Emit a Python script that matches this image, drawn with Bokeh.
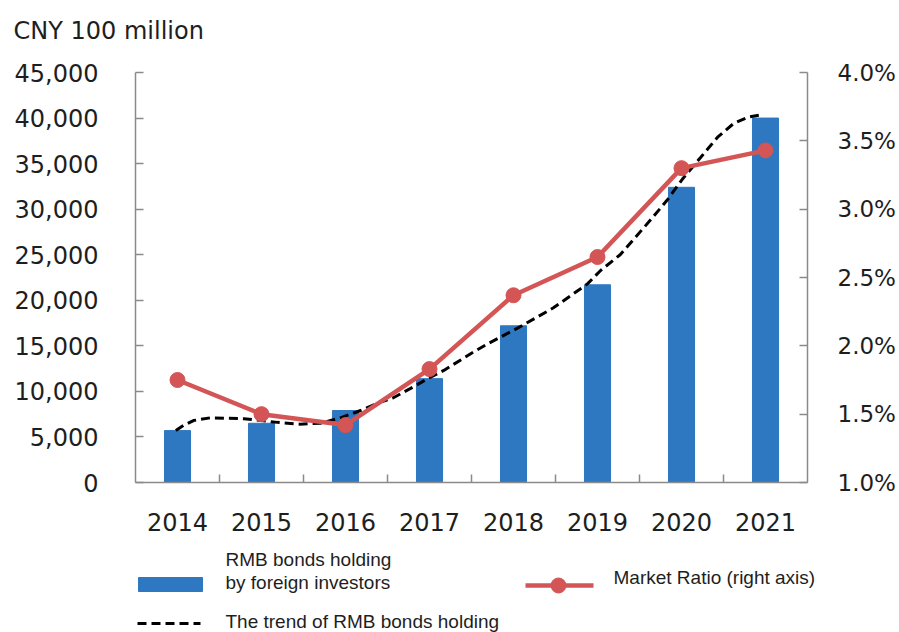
from bokeh.plotting import figure
from bokeh.models import (Range1d, LinearAxis, FixedTicker, PrintfTickFormatter,
                          NumeralTickFormatter, Title)
from bokeh.embed import file_html
from bokeh.resources import INLINE
from bokeh.core.properties import value

# ---------------- data ----------------
years = ["2014", "2015", "2016", "2017", "2018", "2019", "2020", "2021"]
holdings = [5700, 6500, 7900, 11400, 17200, 21700, 32400, 40000]       # CNY 100 million
market_ratio = [1.75, 1.50, 1.42, 1.83, 2.37, 2.65, 3.30, 3.43]        # percent
# trend curve (position in year index, value)
trend_pos = [-0.02, 0.07, 0.19, 0.39, 0.79, 1.19, 1.46, 1.70, 1.94, 2.18, 2.38, 2.57,
             2.77, 2.98, 3.17, 3.52, 3.69, 4.08, 4.48, 4.88, 5.04, 5.27, 5.63, 5.83,
             6.02, 6.23, 6.43, 6.62, 6.79, 6.92]
trend_val = [5700, 6250, 6800, 7100, 7000, 6600, 6400, 6500, 7100, 7900, 8700, 9300,
             10300, 11400, 12300, 14300, 15200, 17100, 19200, 21800, 23300, 25000, 28800, 31000,
             33400, 35700, 37900, 39400, 40100, 40300]
left_ticks = [0, 5000, 10000, 15000, 20000, 25000, 30000, 35000, 40000, 45000]
right_ticks = [1.0, 1.5, 2.0, 2.5, 3.0, 3.5, 4.0]
legend_labels = ["RMB bonds holding", "by foreign investors",
                 "Market Ratio (right axis)", "The trend of RMB bonds holding"]

idx = list(range(len(years)))
between = [i + 0.5 for i in idx[:-1]]

BLUE = "#2E78C2"
RED = "#D45555"
AXIS = "#8a8a8a"
TXT = "#1e1e1e"
FONT = "DejaVu Sans"
LFONT = "Liberation Sans"

W = 899
H1 = 544

p = figure(width=W, height=H1, x_range=Range1d(-0.5, 7.5), y_range=Range1d(0, 45000),
           output_backend="svg", toolbar_location=None, title=None,
           min_border_left=135, min_border_right=92, min_border_top=72, min_border_bottom=62)
p.outline_line_color = None
p.grid.visible = False
p.background_fill_color = "white"
p.border_fill_color = "white"

# heading: a blank spacer title next to the frame, the real heading above it
p.add_layout(Title(text=" ", text_font_size="16px", standoff=9), "above")
p.add_layout(Title(text="CNY 100 million", align="left", offset=-122, standoff=0,
                   text_font=FONT, text_font_size="24px", text_font_style="normal",
                   text_color=TXT), "above")

# x axis
xa = p.xaxis[0]
xa.ticker = FixedTicker(ticks=idx, minor_ticks=between)
xa.major_label_overrides = {i: y for i, y in zip(idx, years)}
xa.major_tick_in = 0
xa.major_tick_out = 0
xa.minor_tick_in = 8
xa.minor_tick_out = 0
xa.minor_tick_line_color = AXIS
xa.minor_tick_line_width = 1.5
xa.axis_line_color = AXIS
xa.axis_line_width = 1.5
xa.major_label_text_font = FONT
xa.major_label_text_font_size = "24px"
xa.major_label_text_color = TXT
xa.major_label_standoff = 30

# left axis
ya = p.yaxis[0]
ya.ticker = FixedTicker(ticks=left_ticks)
ya.formatter = NumeralTickFormatter(format="0,0")
ya.major_tick_in = 8
ya.major_tick_out = 0
ya.minor_tick_line_color = None
ya.major_tick_line_color = AXIS
ya.major_tick_line_width = 1.5
ya.axis_line_color = AXIS
ya.axis_line_width = 1.5
ya.major_label_text_font = FONT
ya.major_label_text_font_size = "24px"
ya.major_label_text_color = TXT
ya.major_label_standoff = 37

# right axis
p.extra_y_ranges = {"ratio": Range1d(1.0, 4.0)}
ra = LinearAxis(y_range_name="ratio", ticker=FixedTicker(ticks=right_ticks),
                formatter=PrintfTickFormatter(format="%.1f%%"))
ra.major_tick_in = 8
ra.major_tick_out = 0
ra.minor_tick_line_color = None
ra.major_tick_line_color = AXIS
ra.major_tick_line_width = 1.5
ra.axis_line_color = AXIS
ra.axis_line_width = 1.5
ra.major_label_text_font = FONT
ra.major_label_text_font_size = "23px"
ra.major_label_text_color = TXT
ra.major_label_standoff = 30
p.add_layout(ra, "right")

# marks
p.vbar(x=idx, top=holdings, width=0.31, color=BLUE)
p.line(trend_pos, trend_val, line_color="black", line_width=3, line_dash="9 5")
p.line(idx, market_ratio, y_range_name="ratio", line_color=RED, line_width=4.5)
p.scatter(idx, market_ratio, y_range_name="ratio", size=15, fill_color=RED, line_color=RED)

# ---------------- legend panel: its own root, coordinates = page pixels ----------------
LH = 632 - H1
leg = figure(width=W, height=LH, x_range=Range1d(0, W), y_range=Range1d(632, H1),
             output_backend="svg", toolbar_location=None, title=None,
             min_border_left=0, min_border_right=0, min_border_top=0, min_border_bottom=0,
             x_axis_type=None, y_axis_type=None)
leg.outline_line_color = None
leg.grid.visible = False
leg.background_fill_color = "white"
leg.border_fill_color = "white"

leg.quad(left=[138], right=[202], top=[577], bottom=[591], color=BLUE)
leg.line(x=[525, 593], y=[585, 585], line_color=RED, line_width=4.5)
leg.scatter(x=[558], y=[585], size=15, fill_color=RED, line_color=RED)
leg.line(x=[137, 200], y=[623, 623], line_color="black", line_width=3, line_dash="9 5")
leg.text(x=[225, 225, 613, 225], y=[559, 582, 577, 621], text=legend_labels,
         text_font=value(LFONT), text_font_size="19px", text_baseline="middle",
         text_align="left", text_color=TXT)

open("out.html", "w").write(file_html([p, leg], INLINE))
